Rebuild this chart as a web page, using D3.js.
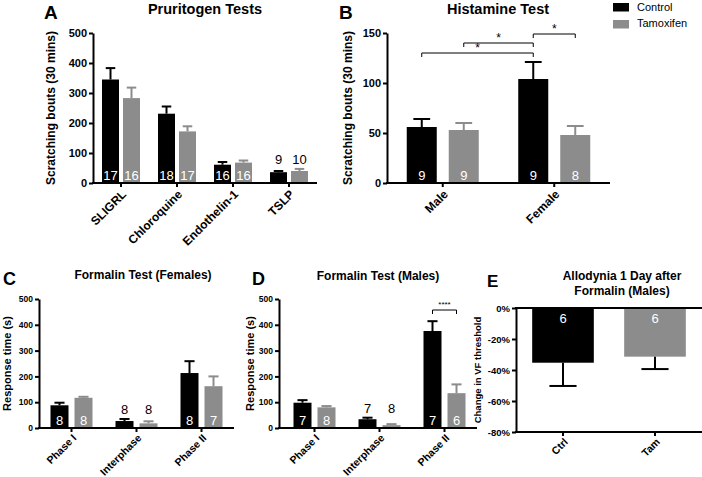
<!DOCTYPE html>
<html><head><meta charset="utf-8">
<script src="https://cdn.jsdelivr.net/npm/d3@7"></script>
<style>
body{margin:0;background:#fff}
svg{display:block}
text{font-family:"Liberation Sans",Arial,Helvetica,sans-serif}
</style>
</head><body>
<svg id="chart" width="702" height="477"></svg>
<script>
// ---------- DATA ----------
const seriesNames = ["Control", "Tamoxifen"];

// A: Pruritogen Tests
const prCategories = ["SLIGRL", "Chloroquine", "Endothelin-1", "TSLP"];
const prControl = [345, 231, 61, 36];
const prControlSem = [38, 24, 9, 4];
const prTamoxifen = [283, 172, 68, 40];
const prTamoxifenSem = [35, 17, 7, 7];
const prNControl = [17, 18, 16, 9];
const prNTamoxifen = [16, 17, 16, 10];
const prTicks = [0, 100, 200, 300, 400, 500];

// B: Histamine Test
const hiCategories = ["Male", "Female"];
const hiControl = [56, 104];
const hiControlSem = [8, 17];
const hiTamoxifen = [53, 48];
const hiTamoxifenSem = [7, 9];
const hiNControl = [9, 9];
const hiNTamoxifen = [9, 8];
const hiTicks = [0, 50, 100, 150];

// C: Formalin Test (Females)
const fmCategories = ["Phase I", "Interphase", "Phase II"];
const ffControl = [88, 27, 213];
const ffControlSem = [10, 8, 46];
const ffTamoxifen = [117, 18, 162];
const ffTamoxifenSem = [4, 8, 38];
const ffNControl = [8, 8, 8];
const ffNTamoxifen = [8, 8, 7];

// D: Formalin Test (Males)
const fmControl = [98, 34, 376];
const fmControlSem = [10, 6, 38];
const fmTamoxifen = [80, 11, 135];
const fmTamoxifenSem = [5, 4, 34];
const fmNControl = [7, 7, 7];
const fmNTamoxifen = [8, 8, 6];
const fmTicks = [0, 100, 200, 300, 400, 500];

// E: Allodynia
const alCategories = ["Ctrl", "Tam"];
const alValues = [-35.3, -31.4];
const alSem = [15, 8];
const alN = [6, 6];
const alTicks = [0, -20, -40, -60, -80];

// ---------- STYLE ----------
const COL = {Control: "#000000", Tamoxifen: "#8c8c8c"};
const svg = d3.select("#chart");

function txt(x, y, s, size, weight, anchor, fill) {
  return svg.append("text").attr("x", x).attr("y", y).text(s)
    .attr("font-size", size).attr("font-weight", weight || "bold")
    .attr("text-anchor", anchor || "middle").attr("fill", fill || "#000");
}

function styleAxis(g) {
  g.selectAll("path.domain").attr("stroke", "#000").attr("stroke-width", 2);
  g.selectAll(".tick line").attr("stroke", "#000").attr("stroke-width", 2);
  g.selectAll(".tick text").attr("fill", "#000").attr("font-weight", "bold")
    .attr("font-family", '"Liberation Sans",Arial,sans-serif');
}

function groupedPanel(cfg) {
  const y = d3.scaleLinear().domain(cfg.domain).range([cfg.y0, cfg.yTop]);
  const x = d3.scaleBand().domain(cfg.cats).range(cfg.range);
  const series = [
    {name: "Control", vals: cfg.control, sem: cfg.controlSem, n: cfg.nControl},
    {name: "Tamoxifen", vals: cfg.tam, sem: cfg.tamSem, n: cfg.nTam}
  ];
  const bw = cfg.barW, gap = cfg.gap;
  const cx = c => x(c) + x.bandwidth() / 2;
  const barX = (c, si) => si === 0 ? cx(c) - gap / 2 - bw : cx(c) + gap / 2;

  const g = svg.append("g");
  series.forEach((s, si) => {
    cfg.cats.forEach((c, i) => {
      const top = y(s.vals[i]);
      const etop = y(s.vals[i] + s.sem[i]);
      const bx = barX(c, si);
      g.append("rect").attr("x", bx).attr("y", top).attr("width", bw)
        .attr("height", y(0) - top).attr("fill", COL[s.name]);
      const mid = bx + bw / 2, cap = bw * 0.28;
      g.append("line").attr("x1", mid).attr("x2", mid).attr("y1", top).attr("y2", etop)
        .attr("stroke", COL[s.name]).attr("stroke-width", 2);
      g.append("line").attr("x1", mid - cap).attr("x2", mid + cap).attr("y1", etop).attr("y2", etop)
        .attr("stroke", COL[s.name]).attr("stroke-width", 2);
    });
  });
  // n labels
  cfg.cats.forEach((c, i) => {
    const heights = series.map(s => y(0) - y(s.vals[i]));
    const small = d3.min(heights) < 15;
    const maxTop = d3.min(series.map(s => y(s.vals[i] + s.sem[i])));
    series.forEach((s, si) => {
      const mid = barX(c, si) + bw / 2;
      if (small) txt(mid, maxTop - 5, s.n[i], cfg.nSize, "normal", "middle", "#000");
      else txt(mid, y(0) - 3.5, s.n[i], cfg.nSize, "normal", "middle", "#fff");
    });
  });
  // y axis
  const ya = svg.append("g").attr("transform", `translate(${cfg.axisX},0)`)
    .call(d3.axisLeft(y).tickValues(cfg.ticks).tickSize(4).tickSizeOuter(0).tickPadding(2));
  styleAxis(ya);
  ya.selectAll(".tick text").attr("font-size", cfg.yTickSize);
  // x axis
  const xa = svg.append("g").attr("transform", `translate(0,${cfg.y0})`)
    .call(d3.axisBottom(x).tickSize(4).tickSizeOuter(0));
  styleAxis(xa);
  xa.select("path.domain").remove();
  xa.append("line").attr("x1", cfg.axisX - 1).attr("x2", cfg.range[1]).attr("y1", 0).attr("y2", 0)
    .attr("stroke", "#000").attr("stroke-width", 2);
  xa.selectAll(".tick text").attr("font-size", cfg.xTickSize)
    .attr("text-anchor", "end").attr("x", 0).attr("y", 0).attr("dy", "0.35em")
    .attr("transform", `translate(${cfg.xOff[0]},${cfg.xOff[1]}) rotate(-45)`);
  // y label
  svg.append("text").attr("transform", `translate(${cfg.yLabelX},${(cfg.y0 + cfg.yTop) / 2}) rotate(-90)`)
    .attr("text-anchor", "middle").attr("font-weight", "bold").attr("font-size", cfg.yLabelSize)
    .text(cfg.yLabel);
  return {x, y, cx, barX, bw};
}

function bracket(x1, x2, yb, tip, label, size, starY) {
  svg.append("path").attr("d", `M${x1},${yb + tip}V${yb}H${x2}V${yb + tip}`)
    .attr("fill", "none").attr("stroke", "#000").attr("stroke-width", 1);
  txt((x1 + x2) / 2, starY, label, size, "normal");
}

// ---------- PANEL A ----------
const A = groupedPanel({
  cats: prCategories, control: prControl, controlSem: prControlSem, tam: prTamoxifen, tamSem: prTamoxifenSem,
  nControl: prNControl, nTam: prNTamoxifen, ticks: prTicks, domain: [0, 500],
  y0: 183, yTop: 33, range: [93, 317], axisX: 93, barW: 17, gap: 4,
  nSize: 13, yTickSize: 11, xTickSize: 12, xOff: [3, 9],
  yLabel: "Scratching bouts (30 mins)", yLabelX: 55, yLabelSize: 12
});
txt(205, 14, "Pruritogen Tests", 14.5);
txt(44, 19, "A", 19, "bold", "start");

// ---------- PANEL B ----------
const B = groupedPanel({
  cats: hiCategories, control: hiControl, controlSem: hiControlSem, tam: hiTamoxifen, tamSem: hiTamoxifenSem,
  nControl: hiNControl, nTam: hiNTamoxifen, ticks: hiTicks, domain: [0, 150],
  y0: 183, yTop: 33, range: [387, 610], axisX: 387, barW: 30, gap: 12,
  nSize: 13, yTickSize: 11, xTickSize: 12, xOff: [3, 9],
  yLabel: "Scratching bouts (30 mins)", yLabelX: 352, yLabelSize: 12
});
txt(498, 14, "Histamine Test", 14.5);
txt(339, 19, "B", 19, "bold", "start");
{
  const mc = B.barX("Male", 0) + B.bw / 2, mt = B.barX("Male", 1) + B.bw / 2;
  const fc = B.barX("Female", 0) + B.bw / 2, ft = B.barX("Female", 1) + B.bw / 2;
  bracket(mc, fc, 53, 4, "*", 12, 52);
  bracket(mt, fc, 43, 4, "*", 12, 42);
  bracket(fc, ft, 34, 4, "*", 12, 33);
}
// Legend
seriesNames.forEach((s, i) => {
  svg.append("rect").attr("x", 613).attr("y", 3 + i * 17).attr("width", 16).attr("height", 8.5).attr("fill", COL[s]);
  txt(637, 10.5 + i * 16.5, s, 11, "normal", "start");
});

// ---------- PANEL C ----------
groupedPanel({
  cats: fmCategories, control: ffControl, controlSem: ffControlSem, tam: ffTamoxifen, tamSem: ffTamoxifenSem,
  nControl: ffNControl, nTam: ffNTamoxifen, ticks: fmTicks, domain: [0, 500],
  y0: 428, yTop: 299, range: [39, 234], axisX: 39, barW: 18, gap: 6,
  nSize: 13, yTickSize: 8.5, xTickSize: 10.5, xOff: [3, 8],
  yLabel: "Response time (s)", yLabelX: 11, yLabelSize: 11
});
txt(143, 279, "Formalin Test (Females)", 12);
txt(3, 285, "C", 18, "bold", "start");

// ---------- PANEL D ----------
const D = groupedPanel({
  cats: fmCategories, control: fmControl, controlSem: fmControlSem, tam: fmTamoxifen, tamSem: fmTamoxifenSem,
  nControl: fmNControl, nTam: fmNTamoxifen, ticks: fmTicks, domain: [0, 500],
  y0: 428, yTop: 299, range: [282, 477], axisX: 279, barW: 18, gap: 6,
  nSize: 13, yTickSize: 8.5, xTickSize: 10.5, xOff: [3, 8],
  yLabel: "Response time (s)", yLabelX: 254, yLabelSize: 11
});
txt(378, 280, "Formalin Test (Males)", 12);
txt(252, 285, "D", 18, "bold", "start");
{
  const c = D.barX("Phase II", 0) + D.bw / 2, t = D.barX("Phase II", 1) + D.bw / 2;
  bracket(c, t, 310, 4, "****", 8, 307);
}

// ---------- PANEL E ----------
{
  const y = d3.scaleLinear().domain([-80, 0]).range([432, 308]);
  const x = d3.scaleBand().domain(alCategories).range([517, 701]).paddingInner(0.33).paddingOuter(0.165);
  const colE = [COL.Control, COL.Tamoxifen];
  alCategories.forEach((c, i) => {
    const bx = x(c), bw = x.bandwidth();
    const bot = y(alValues[i]), eb = y(alValues[i] - alSem[i]);
    svg.append("rect").attr("x", bx).attr("y", y(0)).attr("width", bw).attr("height", bot - y(0)).attr("fill", colE[i]);
    const mid = bx + bw / 2, cap = bw * 0.22;
    svg.append("line").attr("x1", mid).attr("x2", mid).attr("y1", bot).attr("y2", eb).attr("stroke", "#000").attr("stroke-width", 2);
    svg.append("line").attr("x1", mid - cap).attr("x2", mid + cap).attr("y1", eb).attr("y2", eb).attr("stroke", "#000").attr("stroke-width", 2);
    txt(mid, y(0) + 15, alN[i], 13, "normal", "middle", "#fff");
  });
  const ya = svg.append("g").attr("transform", "translate(516,0)")
    .call(d3.axisLeft(y).tickValues(alTicks).tickFormat(d => d + "%").tickSize(4).tickSizeOuter(0).tickPadding(2));
  styleAxis(ya);
  ya.selectAll(".tick text").attr("font-size", 9.5);
  svg.append("line").attr("x1", 515).attr("x2", 702).attr("y1", y(0)).attr("y2", y(0)).attr("stroke", "#000").attr("stroke-width", 2);
  const xa = svg.append("g").attr("transform", `translate(0,${y(-80)})`)
    .call(d3.axisBottom(x).tickSize(4).tickSizeOuter(0));
  styleAxis(xa);
  xa.select("path.domain").remove();
  xa.append("line").attr("x1", 515).attr("x2", 702).attr("y1", 0).attr("y2", 0).attr("stroke", "#000").attr("stroke-width", 2);
  xa.selectAll(".tick text").attr("font-size", 10.5).attr("text-anchor", "end").attr("x", 0).attr("y", 0).attr("dy", "0.35em")
    .attr("transform", "translate(3,8) rotate(-45)");
  svg.append("text").attr("transform", `translate(481,370) rotate(-90)`).attr("text-anchor", "middle")
    .attr("font-weight", "bold").attr("font-size", 9.5).text("Change in VF threshold");
  txt(622, 280, "Allodynia 1 Day after", 12);
  txt(622, 295, "Formalin (Males)", 12);
  txt(487, 287, "E", 17, "bold", "start");
}
</script>
</body></html>
